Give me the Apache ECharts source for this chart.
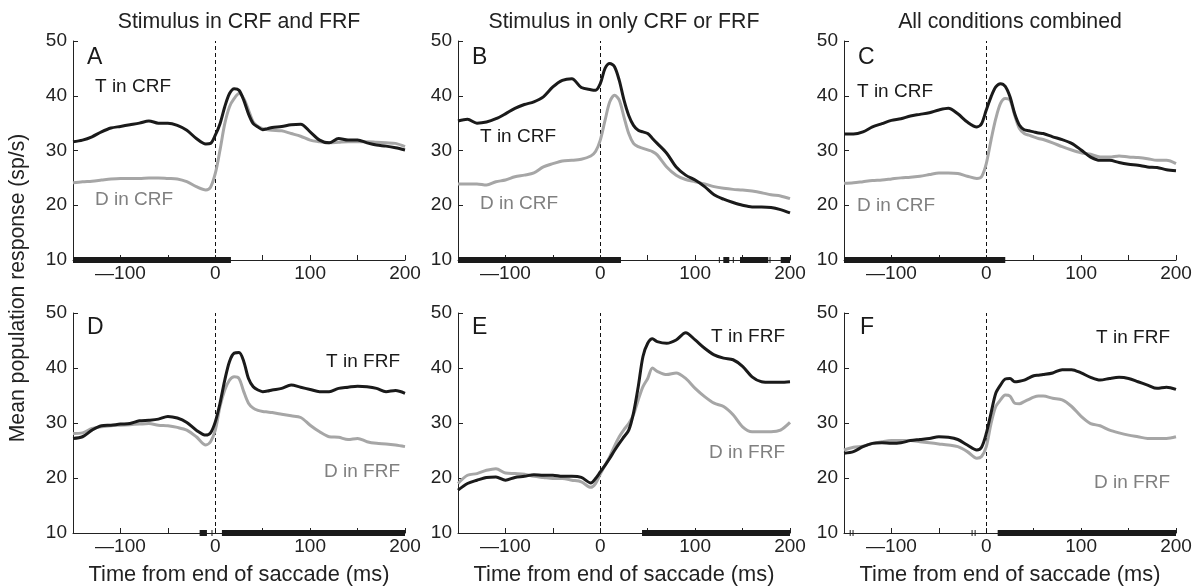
<!DOCTYPE html>
<html><head><meta charset="utf-8">
<script src="https://cdn.jsdelivr.net/npm/echarts@6/dist/echarts.min.js"></script>
<style>html,body{margin:0;padding:0;background:#fff}#c{width:1197px;height:586px}</style>
</head><body><div id="c"></div>
<script>
// time axis (ms from end of saccade)
const timeMs = [-150,-140,-130,-120,-110,-100,-90,-80,-70,-60,-50,-40,-30,-20,-10,-5,0,5,10,15,20,25,30,35,40,45,50,55,60,70,80,90,100,110,120,130,140,150,160,170,180,190,200];

// Panel A: stimulus in CRF and FRF
const aT = [31.6,31.9,32.5,33.4,34.1,34.4,34.7,35.0,35.4,35.0,35.0,34.6,33.7,32.2,31.2,31.3,32.8,34.9,38.0,40.4,41.3,41.0,39.2,36.7,34.9,34.3,33.8,34.0,34.2,34.4,34.7,34.8,33.4,31.9,31.4,32.2,31.9,31.9,31.4,31.0,30.8,30.5,30.1];
const aD = [24.1,24.3,24.4,24.6,24.8,24.9,24.9,24.9,25.0,25.0,24.9,24.8,24.3,23.4,22.8,23.3,25.8,30.1,34.9,38.0,39.5,40.4,39.5,37.4,35.2,34.4,34.0,33.8,33.7,33.6,33.1,32.6,31.9,31.6,31.4,31.5,31.6,31.6,31.6,31.5,31.4,31.3,30.7];
// Panel B: stimulus in only CRF or FRF
const bT = [35.4,35.7,35.0,35.2,35.8,36.7,37.7,38.4,38.9,39.8,41.6,42.8,43.1,41.5,41.1,41.0,42.2,45.0,45.9,45.3,42.8,39.2,36.4,34.6,33.7,33.4,33.1,32.2,31.3,29.5,27.0,25.5,24.6,23.4,21.9,21.1,20.5,20.0,19.7,19.7,19.6,19.2,18.6];
const bD = [23.9,23.9,23.9,23.7,24.3,24.6,25.2,25.5,25.9,27.0,27.6,28.1,28.2,28.4,29.0,29.8,31.9,35.5,38.9,40.1,39.2,36.1,33.1,31.3,30.7,30.4,30.1,29.8,29.2,27.0,25.5,24.7,24.3,23.9,23.4,23.1,22.9,22.8,22.6,22.3,21.9,21.7,21.2];
// Panel C: all conditions combined
const cT = [33.0,33.0,33.4,34.3,34.9,35.5,35.8,36.3,36.6,36.9,37.4,37.7,36.7,35.2,34.3,34.9,37.4,39.8,41.6,42.2,41.7,39.8,36.7,34.6,33.8,33.6,33.4,33.2,33.1,32.5,32.0,31.3,30.1,28.8,28.2,28.2,27.8,27.5,27.3,27.0,26.9,26.5,26.3];
const cD = [24.0,24.1,24.3,24.5,24.6,24.8,25.0,25.1,25.3,25.6,25.9,25.9,25.8,25.3,24.9,25.2,27.6,31.9,35.8,38.6,39.5,39.2,36.4,34.0,33.1,32.8,32.5,32.2,32.0,31.4,30.7,30.1,29.6,29.3,28.8,28.8,29.0,28.8,28.7,28.5,28.2,28.2,27.6];
// Panel D
const dT = [27.2,27.5,28.7,29.5,29.6,29.8,29.9,30.4,30.5,30.7,31.2,30.9,30.1,28.7,27.8,28.2,30.2,33.6,37.8,41.2,42.7,42.8,41.2,38.1,36.6,36.0,35.7,35.8,36.0,36.3,36.9,36.5,36.1,35.7,35.7,36.3,36.5,36.7,36.6,36.3,35.7,35.9,35.4];
const dD = [28.1,28.2,29.0,29.3,29.5,29.6,29.7,29.8,29.9,29.6,29.5,29.2,28.7,27.5,26.0,26.6,28.7,33.0,36.0,37.8,38.4,38.1,35.7,33.6,32.7,32.3,32.1,32.0,31.9,31.6,31.3,31.0,29.6,28.4,27.5,27.4,27.0,27.2,26.6,26.3,26.2,26.0,25.7];
// Panel E
const eT = [17.8,19.0,19.6,20.1,20.2,19.6,20.1,20.3,20.6,20.5,20.5,20.3,20.3,20.1,19.1,19.9,21.1,22.3,23.6,25.0,26.3,27.5,28.7,31.8,36.6,42.1,44.5,45.3,44.8,44.5,45.1,46.4,45.1,43.6,42.4,41.8,41.5,40.3,38.4,37.5,37.4,37.4,37.5];
const eD = [19.0,20.5,20.8,21.4,21.7,20.9,20.8,20.7,20.3,20.1,19.9,19.9,19.6,19.3,18.3,19.0,20.7,22.3,23.9,25.8,27.5,28.8,29.9,31.5,34.2,36.6,38.1,40.0,39.4,38.8,39.1,38.1,36.3,34.8,33.6,33.0,31.5,29.3,28.4,28.4,28.4,28.7,30.1];
// Panel F
const fT = [24.5,24.8,25.7,26.3,26.4,26.3,26.4,26.8,27.0,27.2,27.5,27.4,27.0,26.0,25.1,25.6,28.1,31.8,35.4,36.9,38.0,38.1,37.5,37.6,37.8,38.2,38.6,38.7,38.8,39.1,39.7,39.7,39.1,38.3,37.8,38.1,38.3,38.1,37.5,36.9,36.3,36.5,36.1];
const fD = [25.1,25.6,25.8,26.3,26.6,26.8,26.8,26.8,26.6,26.4,26.2,26.0,25.7,24.8,23.6,23.9,25.7,29.9,33.0,34.2,35.1,34.9,33.6,33.5,33.9,34.3,34.7,34.9,34.9,34.5,34.2,33.0,31.2,29.9,29.5,28.7,28.2,27.8,27.5,27.2,27.2,27.2,27.5];

// significance intervals [start, end] in ms
const sigA = [[-150,16.5]];
const sigB = [[-150,21.8],[125,126],[129.7,136],[139.7,140.7],[147.3,177.1],[178.4,179.4],[190.2,200]];
const sigC = [[-150,20]];
const sigD = [[-16.5,-8.8],[-4,-3],[7,200]];
const sigE = [[44,200]];
const sigF = [[-144,-143],[-141,-140],[-15.5,-14.5],[-12.3,-11.3],[12,200]];

const columnTitles = ['Stimulus in CRF and FRF','Stimulus in only CRF or FRF','All conditions combined'];
const panelLetters = ['A','B','C','D','E','F'];
const tLabels = ['T in CRF','T in CRF','T in CRF','T in FRF','T in FRF','T in FRF'];
const dLabels = ['D in CRF','D in CRF','D in CRF','D in FRF','D in FRF','D in FRF'];
const xLabeled = [-100, 0, 100, 200];
const xAxisName = 'Time from end of saccade (ms)';
const yAxisName = 'Mean population response (sp/s)';

const panels = [[aT,aD,sigA],[bT,bD,sigB],[cT,cD,sigC],[dT,dD,sigD],[eT,eD,sigE],[fT,fD,sigF]];

const FONT = '"Liberation Sans", Arial, Helvetica, sans-serif';
const colLeft = [73, 458, 844];
const colW = 332;
const rowTop = [41, 313];
const rowH = [219, 220];

const grids = [], xAxes = [], yAxes = [], series = [];
panels.forEach((p, i) => {
  const col = i % 3, row = Math.floor(i / 3);
  grids.push({left: colLeft[col], top: rowTop[row], width: colW, height: rowH[row], containLabel: false});
  xAxes.push({
    type: 'value', gridIndex: i, min: -150, max: 200, interval: 50,
    axisLine: {show: true, onZero: false, lineStyle: {color: '#222', width: 1}},
    axisTick: {show: true, inside: true, length: 5, lineStyle: {color: '#222'}},
    splitLine: {show: false},
    axisLabel: {show: true, fontSize: 19, fontFamily: FONT, color: '#222', margin: 4,
      formatter: v => xLabeled.indexOf(v) < 0 ? '' : (v < 0 ? '\u2014' + Math.abs(v) : String(v))}
  });
  yAxes.push({
    type: 'value', gridIndex: i, min: 10, max: 50, interval: 10,
    axisLine: {show: true, onZero: false, lineStyle: {color: '#222', width: 1}},
    axisTick: {show: true, inside: true, length: 5, lineStyle: {color: '#222'}},
    splitLine: {show: false},
    axisLabel: {show: true, fontSize: 19, fontFamily: FONT, color: '#222', margin: 6}
  });
  const mk = arr => timeMs.map((t, k) => [t, arr[k]]);
  series.push({
    type: 'line', xAxisIndex: i, yAxisIndex: i, data: mk(p[1]), showSymbol: false, smooth: 0.3,
    lineStyle: {color: '#a6a6a6', width: 3}, z: 3, silent: true, animation: false
  });
  series.push({
    type: 'line', xAxisIndex: i, yAxisIndex: i, data: mk(p[0]), showSymbol: false, smooth: 0.3,
    lineStyle: {color: '#1a1a1a', width: 3}, z: 4, silent: true, animation: false,
    markLine: {symbol: 'none', silent: true, animation: false, label: {show: false}, z: 1,
      lineStyle: {type: [4, 3], color: '#111', width: 1}, data: [{xAxis: 0}]}
  });
  series.push({
    type: 'custom', xAxisIndex: i, yAxisIndex: i, animation: false, silent: true, z: 5,
    data: p[2].map(s => [s[0], s[1], 10]),
    encode: {x: [0, 1], y: 2},
    renderItem: (params, api) => {
      const s = api.coord([api.value(0), api.value(2)]);
      const e = api.coord([api.value(1), api.value(2)]);
      return {type: 'rect', shape: {x: s[0], y: s[1] - 3, width: Math.max(e[0] - s[0], 1), height: 6},
        style: {fill: '#1a1a1a'}};
    }
  });
});

const graphic = [];
const txt = (x, y, text, size, fill, align, extra) => graphic.push(Object.assign({
  type: 'text', x: x, y: y, silent: true,
  style: {text: text, font: size + 'px ' + FONT, fill: fill, align: align, verticalAlign: 'middle'}
}, extra || {}));

columnTitles.forEach((t, c) => txt(colLeft[c] + colW / 2, 22, t, 21.3, '#222', 'center'));
[0,1,2].forEach(c => txt(colLeft[c] + colW / 2, 575, xAxisName, 21.8, '#222', 'center'));
txt(18, 288, yAxisName, 21.2, '#222', 'center', {rotation: Math.PI / 2});

// panel letters
const letterPos = [[87,58],[472,58],[858,58],[87,328],[472,328],[860,328]];
panelLetters.forEach((L, i) => txt(letterPos[i][0], letterPos[i][1], L, 23, '#1a1a1a', 'left'));
// curve labels
const tPos = [[95,87,'left'],[480,137,'left'],[857,92,'left'],[400,362,'right'],[785,337,'right'],[1170,338,'right']];
const dPos = [[95,200,'left'],[480,204,'left'],[857,206,'left'],[400,472,'right'],[785,453,'right'],[1170,483,'right']];
tLabels.forEach((L, i) => txt(tPos[i][0], tPos[i][1], L, 19, '#1a1a1a', tPos[i][2]));
dLabels.forEach((L, i) => txt(dPos[i][0], dPos[i][1], L, 19, '#808080', dPos[i][2]));

const chart = echarts.init(document.getElementById('c'), null, {renderer: 'canvas'});
chart.setOption({animation: false, backgroundColor: '#fff', grid: grids, xAxis: xAxes, yAxis: yAxes, series: series, graphic: graphic});
</script></body></html>
